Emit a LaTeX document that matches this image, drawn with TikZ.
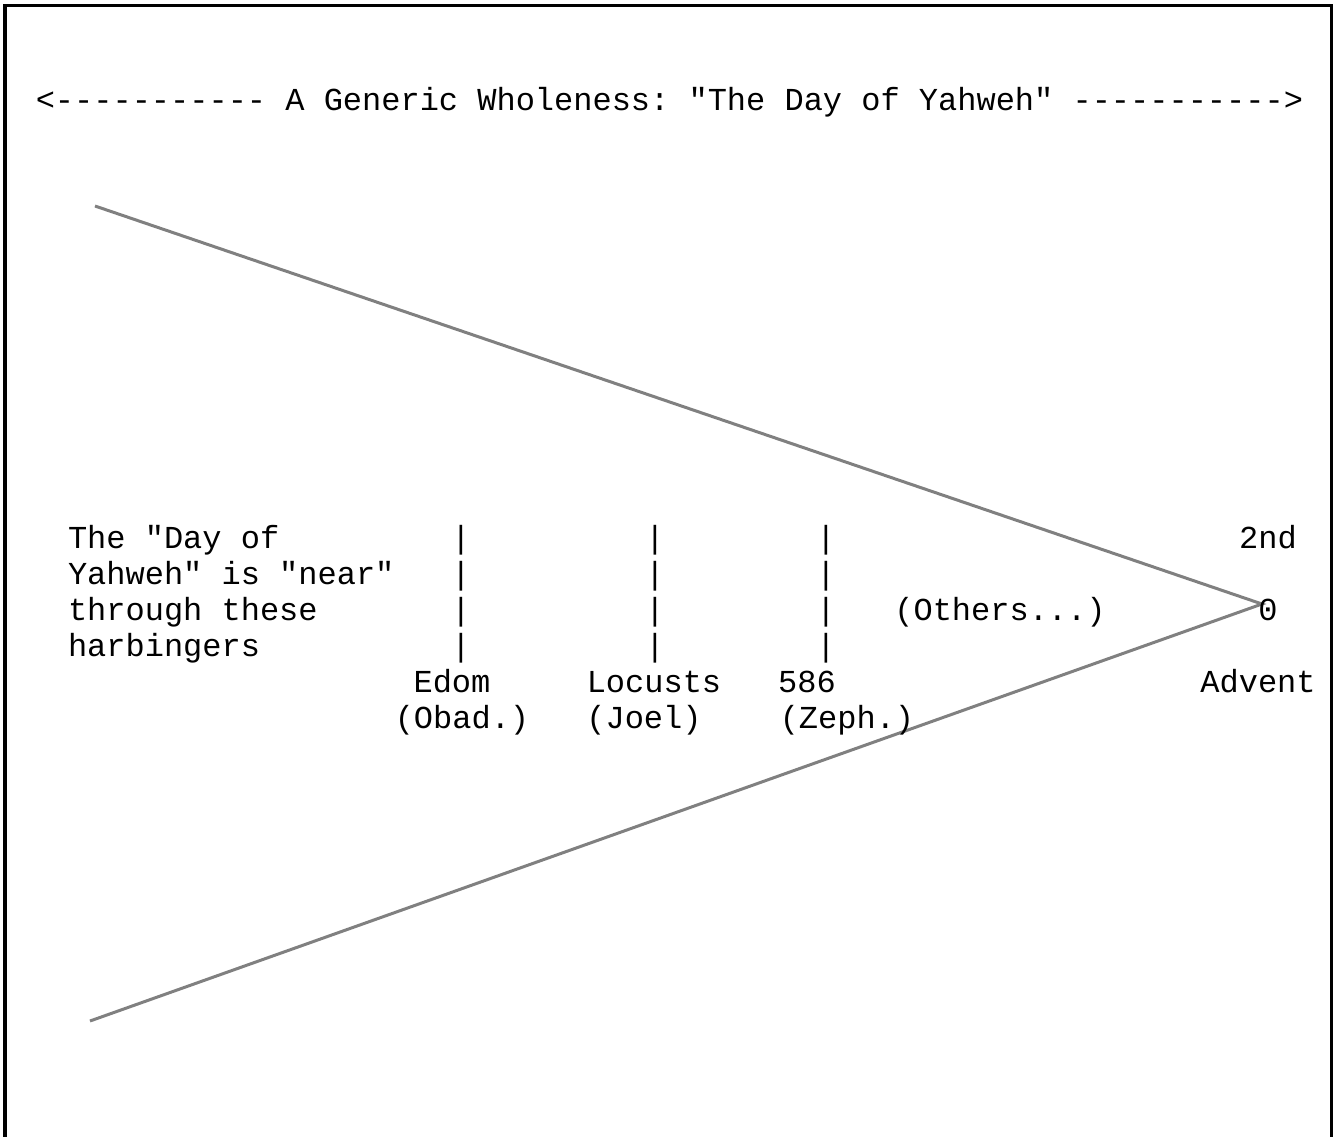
\documentclass[tikz,border=0pt]{standalone}
\usepackage{fontspec}
\setmonofont{Liberation Mono}
\begin{document}
\begin{tikzpicture}[x=1pt,y=-1pt,
  txt/.style={inner sep=0pt,outer sep=0pt,font=\ttfamily\fontsize{32}{36}\selectfont,text=black},
  wedge/.style={draw=gray,line width=3pt},
  frame/.style={draw=black,line width=3.5pt}]
\useasboundingbox (0,0) rectangle (1333,1137);
% frame (open at bottom)
\coordinate (fbl) at (5,1137);
\coordinate (ftl) at (5,5.5);
\coordinate (ftr) at (1331.5,5.5);
\coordinate (fbr) at (1331.5,1137);
\draw[frame] (fbl) -- (ftl) -- (ftr) -- (fbr);
% title
\node[txt,anchor=base] (title) at (669.5,111) {<----------- A Generic Wholeness: "The Day of Yahweh" ----------->};
% wedge lines
\coordinate (apex) at (1262,604);
\coordinate (utop) at (95,206);
\coordinate (lbot) at (90,1021);
\draw[wedge] (utop) -- (apex) -- (lbot);
% left text block
\node[txt,anchor=base west] (l1) at (68,548) {The "Day of};
\node[txt,anchor=base west] (l2) at (68,584) {Yahweh" is "near"};
\node[txt,anchor=base west] (l3) at (68,620) {through these};
\node[txt,anchor=base west] (l4) at (68,656) {harbingers};
% bars
\foreach \bx/\nm in {461/a,655/b,826/c}{
  \foreach \by/\k in {548/1,584/2,620/3,656/4}{
    \node[txt,anchor=base] (bar\nm\k) at (\bx,\by) {|};
  }
}
% labels
\node[txt,anchor=base] (edom) at (452,692) {Edom};
\node[txt,anchor=base] (obad) at (462,728) {(Obad.)};
\node[txt,anchor=base] (locusts) at (654,692) {Locusts};
\node[txt,anchor=base] (joel) at (644,728) {(Joel)};
\node[txt,anchor=base] (n586) at (807,692) {586};
\node[txt,anchor=base] (zeph) at (847,728) {(Zeph.)};
\node[txt,anchor=base] (others) at (1000,620) {(Others...)};
\node[txt,anchor=base] (second) at (1268,548) {2nd};
\node[txt,anchor=base] (zero) at (1268,620) {0};
\node[txt,anchor=base] (advent) at (1258,692) {Advent};
\end{tikzpicture}
\end{document}
